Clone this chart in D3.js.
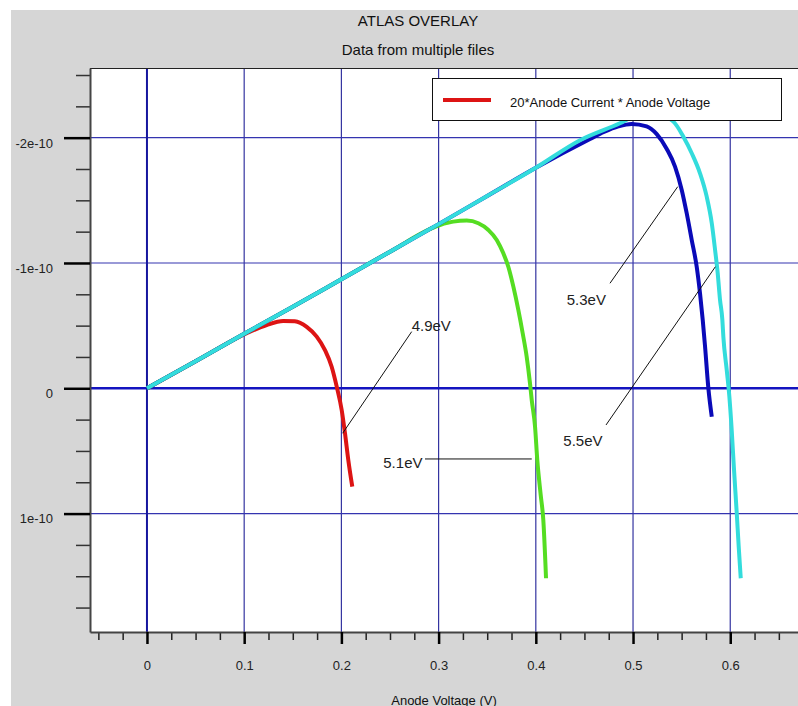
<!DOCTYPE html>
<html><head><meta charset="utf-8">
<script src="https://cdn.jsdelivr.net/npm/d3@7"></script>
<style>
body{margin:0;background:#fff;}
svg{display:block;font-family:"Liberation Sans",Arial,sans-serif;}
</style>
</head><body><svg id="c" width="798" height="706"></svg>
<script>
// ---------- DATA (y values in units of 1e-10) ----------
const titleText = "ATLAS OVERLAY";
const subtitleText = "Data from multiple files";
const xAxisTitle = "Anode Voltage (V)";
const legendLabel = "20*Anode Current * Anode Voltage";

const xMajorTicks = [0, 0.1, 0.2, 0.3, 0.4, 0.5, 0.6];
const xTickLabels = ["0", "0.1", "0.2", "0.3", "0.4", "0.5", "0.6"];
const xMinorTicks = [-0.05, -0.025, 0.025, 0.05, 0.075, 0.125, 0.15, 0.175, 0.225, 0.25, 0.275,
  0.325, 0.35, 0.375, 0.425, 0.45, 0.475, 0.525, 0.55, 0.575, 0.625, 0.65];
const yMajorTicks = [-2, -1, 0, 1];
const yTickLabels = ["-2e-10", "-1e-10", "0", "1e-10"];
const yMinorTicks = [-2.5, -2.25, -1.75, -1.5, -1.25, -0.75, -0.5, -0.25, 0.25, 0.5, 0.75, 1.25, 1.5, 1.75];

const seriesNames = ["4.9eV", "5.1eV", "5.3eV", "5.5eV"];

const v49 = [0, 0.05, 0.1026, 0.1231, 0.1402, 0.152, 0.1643, 0.1746, 0.1831, 0.19, 0.1952, 0.2003, 0.2037, 0.2071, 0.2112];
const p49 = [0, -0.215, -0.439, -0.505, -0.537, -0.534, -0.49, -0.412, -0.305, -0.172, -0.013, 0.173, 0.359, 0.572, 0.785];

const v51 = [0, 0.05, 0.1, 0.15, 0.2, 0.25, 0.3014, 0.3151, 0.3289, 0.3409, 0.3512, 0.3598, 0.3666, 0.3717, 0.3769, 0.382, 0.3865, 0.3906, 0.394, 0.3958, 0.3992, 0.4015, 0.405, 0.4077, 0.4105];
const p51 = [0, -0.215, -0.435, -0.65, -0.87, -1.09, -1.303, -1.33, -1.338, -1.317, -1.263, -1.184, -1.077, -0.97, -0.811, -0.625, -0.439, -0.252, -0.04, 0.093, 0.306, 0.572, 0.85, 1.051, 1.516];

const v53 = [0, 0.05, 0.1, 0.15, 0.2, 0.25, 0.3, 0.35, 0.4, 0.4558, 0.47, 0.485, 0.4986, 0.514, 0.5244, 0.5347, 0.5432, 0.5501, 0.5552, 0.5604, 0.5655, 0.5689, 0.5717, 0.5741, 0.5775, 0.581];
const p53 = [0, -0.215, -0.435, -0.65, -0.87, -1.09, -1.31, -1.535, -1.76, -1.99, -2.045, -2.09, -2.11, -2.09, -2.028, -1.91, -1.769, -1.583, -1.397, -1.183, -0.97, -0.758, -0.545, -0.332, 0, 0.227];

const v55 = [0, 0.05, 0.1, 0.15, 0.2, 0.25, 0.3, 0.35, 0.4, 0.4455, 0.4866, 0.515, 0.5415, 0.5518, 0.5604, 0.5689, 0.5758, 0.581, 0.5844, 0.5871, 0.5895, 0.5919, 0.5929, 0.5964, 0.5991, 0.6015, 0.6039, 0.6067, 0.6087, 0.6108];
const p55 = [0, -0.215, -0.435, -0.65, -0.87, -1.09, -1.31, -1.535, -1.76, -1.98, -2.115, -2.22, -2.128, -2.008, -1.876, -1.716, -1.529, -1.317, -1.104, -0.918, -0.705, -0.545, -0.412, -0.146, 0.067, 0.333, 0.652, 0.998, 1.264, 1.516];

// annotation: label anchor (data coords) and leader line endpoints (data coords)
const annLabels = ["4.9eV", "5.1eV", "5.3eV", "5.5eV"];
const annTextX = [0.2723, 0.2431, 0.4318, 0.4283];
const annTextY = [-0.46, 0.636, -0.665, 0.46];
const annX1 = [0.2723, 0.286, 0.4763, 0.4722];
const annY1 = [-0.452, 0.564, -0.838, 0.293];
const annX2 = [0.2013, 0.3958, 0.546, 0.5847];
const annY2 = [0.359, 0.564, -1.609, -0.970];

// ---------- LAYOUT ----------
const W = 798, H = 706;
const plot = {left: 90, top: 68, right: 798, bottom: 632};
const colors = ["#dd1414", "#55dd22", "#0a0ab8", "#33dcdc"];

const svg = d3.select("#c");
const x = d3.scaleLinear().domain([-0.0586, 0.6697]).range([plot.left, plot.right]);
const y = d3.scaleLinear().domain([-2.556, 1.945]).range([plot.top, plot.bottom]);

// background
svg.append("rect").attr("x", 0).attr("y", 0).attr("width", W).attr("height", H).attr("fill", "#fff");
svg.append("rect").attr("x", 11).attr("y", 10).attr("width", W - 11).attr("height", H - 10).attr("fill", "#d6d6d6");
svg.append("rect").attr("x", plot.left).attr("y", plot.top)
  .attr("width", plot.right - plot.left).attr("height", plot.bottom - plot.top).attr("fill", "#fff");

// titles
svg.append("text").attr("x", 418).attr("y", 26).attr("text-anchor", "middle")
  .attr("font-size", 15).attr("fill", "#111").text(titleText);
svg.append("text").attr("x", 418).attr("y", 55).attr("text-anchor", "middle")
  .attr("font-size", 15).attr("fill", "#111").text(subtitleText);
svg.append("text").attr("x", (plot.left + plot.right) / 2).attr("y", 704.5).attr("text-anchor", "middle")
  .attr("font-size", 13).attr("fill", "#111").text(xAxisTitle);

// gridlines
const grid = svg.append("g");
grid.selectAll(".gx").data(xMajorTicks.filter(d => d !== 0)).join("line")
  .attr("x1", d => x(d)).attr("x2", d => x(d)).attr("y1", plot.top).attr("y2", plot.bottom)
  .attr("stroke", "#3434a0").attr("stroke-width", 1.2);
grid.selectAll(".gy").data(yMajorTicks.filter(d => d !== 0)).join("line")
  .attr("y1", d => y(d)).attr("y2", d => y(d)).attr("x1", plot.left).attr("x2", plot.right)
  .attr("stroke", "#3434b0").attr("stroke-width", 1.2);
// zero lines
grid.append("line").attr("x1", x(0)).attr("x2", x(0)).attr("y1", plot.top).attr("y2", plot.bottom)
  .attr("stroke", "#16169e").attr("stroke-width", 2);
grid.append("line").attr("y1", y(0)).attr("y2", y(0)).attr("x1", plot.left).attr("x2", plot.right)
  .attr("stroke", "#1414c0").attr("stroke-width", 2.5);

// curves
const seriesV = [v49, v51, v53, v55];
const seriesP = [p49, p51, p53, p55];
const line = d3.line().x(d => x(d[0])).y(d => y(d[1])).curve(d3.curveMonotoneX);
seriesV.forEach((vs, i) => {
  const pts = vs.map((v, j) => [v, seriesP[i][j]]);
  svg.append("path").datum(pts).attr("d", line)
    .attr("fill", "none").attr("stroke", colors[i]).attr("stroke-width", 4)
    .attr("stroke-linejoin", "round").attr("stroke-linecap", "butt");
});

// annotations
annLabels.forEach((lab, i) => {
  svg.append("line").attr("x1", x(annX1[i])).attr("y1", y(annY1[i]))
    .attr("x2", x(annX2[i])).attr("y2", y(annY2[i]))
    .attr("stroke", "#111").attr("stroke-width", 1);
  svg.append("text").attr("x", x(annTextX[i])).attr("y", y(annTextY[i]))
    .attr("font-size", 15).attr("fill", "#222").text(lab);
});

// legend
const lg = svg.append("g");
lg.append("rect").attr("x", 432.5).attr("y", 78.5).attr("width", 349).attr("height", 42)
  .attr("fill", "#fff").attr("stroke", "#111").attr("stroke-width", 1);
lg.append("line").attr("x1", 443).attr("x2", 491).attr("y1", 100).attr("y2", 100)
  .attr("stroke", colors[0]).attr("stroke-width", 4);
lg.append("text").attr("x", 510).attr("y", 107).attr("font-size", 13).attr("fill", "#111").text(legendLabel);

// top border
svg.append("line").attr("x1", plot.left).attr("x2", plot.right).attr("y1", plot.top + 0.5).attr("y2", plot.top + 0.5)
  .attr("stroke", "#222").attr("stroke-width", 1);

// y axis
const yMinorAxis = d3.axisLeft(y).tickValues(yMinorTicks).tickSize(14).tickSizeOuter(0).tickFormat("");
const gyMinor = svg.append("g").attr("transform", `translate(${plot.left},0)`).call(yMinorAxis);
gyMinor.select(".domain").remove();
gyMinor.selectAll(".tick line").attr("stroke", "#333").attr("stroke-width", 1.5);

const yAxis = d3.axisLeft(y).tickValues(yMajorTicks).tickSize(26).tickSizeOuter(0).tickPadding(11)
  .tickFormat((d, i) => yTickLabels[i]);
const gy = svg.append("g").attr("transform", `translate(${plot.left},0)`).call(yAxis);
gy.select(".domain").attr("stroke", "#444").attr("stroke-width", 2);
gy.selectAll(".tick line").attr("stroke", "#000").attr("stroke-width", 2.5);
gy.selectAll(".tick text").attr("font-size", 13).attr("font-family", "Liberation Sans, Arial, sans-serif")
  .attr("fill", "#222").attr("dy", "0.72em");

// x axis
const xMinorAxis = d3.axisBottom(x).tickValues(xMinorTicks).tickSize(8).tickSizeOuter(0).tickFormat("");
const gxMinor = svg.append("g").attr("transform", `translate(0,${plot.bottom})`).call(xMinorAxis);
gxMinor.select(".domain").remove();
gxMinor.selectAll(".tick line").attr("stroke", "#222").attr("stroke-width", 1.5);

const xAxis = d3.axisBottom(x).tickValues(xMajorTicks).tickSize(12).tickSizeOuter(0).tickPadding(17)
  .tickFormat((d, i) => xTickLabels[i]);
const gx = svg.append("g").attr("transform", `translate(0,${plot.bottom})`).call(xAxis);
gx.select(".domain").attr("stroke", "#444").attr("stroke-width", 2);
gx.selectAll(".tick line").attr("stroke", "#000").attr("stroke-width", 2.5);
gx.selectAll(".tick text").attr("font-size", 13).attr("font-family", "Liberation Sans, Arial, sans-serif")
  .attr("fill", "#222");
</script></body></html>
